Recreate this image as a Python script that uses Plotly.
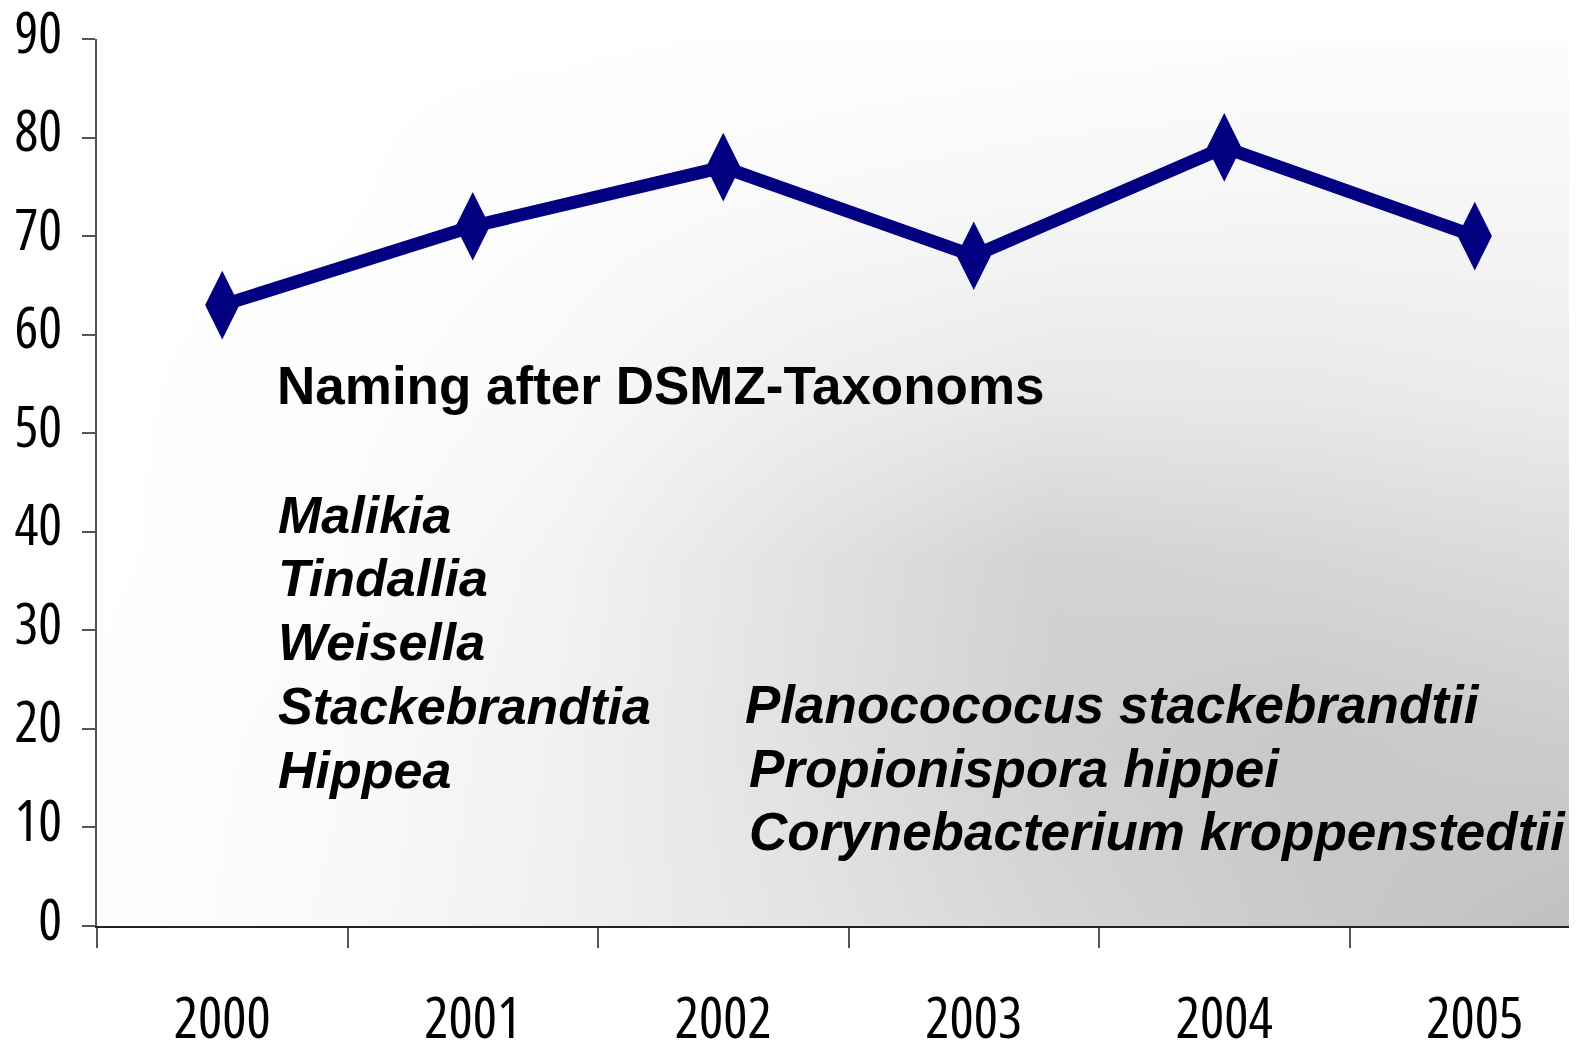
import plotly.graph_objects as go

# ---- data ----
years = ["2000", "2001", "2002", "2003", "2004", "2005"]
values = [63, 71, 77, 68, 79, 70]
y_ticks = [0, 10, 20, 30, 40, 50, 60, 70, 80, 90]

title_text = "Naming after DSMZ-Taxonoms"
left_names = ["Malikia", "Tindallia", "Weisella", "Stackebrandtia", "Hippea"]
right_names = ["Planocococus stackebrandtii", "Propionispora hippei", "Corynebacterium kroppenstedtii"]

# ---- background gradient control grid (gray levels) ----
bg_x = [0.0, 0.157, 0.313, 0.475, 0.644, 0.813, 1.0]
bg_y = [0.0, 0.21, 0.413, 0.593, 0.818, 1.0]
bg_z = [
    [254, 249, 240, 228, 214, 202, 192],
    [254, 250, 241, 225, 208, 200, 205],
    [255, 252, 243, 226, 210, 214, 220],
    [255, 253, 248, 238, 231, 232, 236],
    [255, 255, 252, 249, 247, 246, 246],
    [255, 255, 255, 254, 253, 252, 252],
]

COND = "Open Sans, Roboto Condensed, sans-serif"
WIDE = "Liberation Sans, Arial, sans-serif"
NAVY = "#000080"


def narrow(s):
    return f"<span style='font-stretch:75%'>{s}</span>"


# page body has an 8px margin: compensate so the plot sits where the reference has it
OFF = 8
W, H = 1577 - OFF, 1045 - OFF
L, T = 97 - OFF, 39 - OFF
plot_w = W - L            # 1480
plot_h = 887
B = H - T - plot_h
cat_w = 250.5

fig = go.Figure()

fig.add_trace(go.Heatmap(
    x=bg_x, y=bg_y, z=bg_z, zmin=0, zmax=255, zsmooth="best",
    colorscale=[[0, "rgb(0,0,0)"], [1, "rgb(255,255,255)"]],
    showscale=False, hoverinfo="skip", xaxis="x", yaxis="y",
))

fig.add_trace(go.Scatter(
    x=years, y=values, mode="lines+markers",
    line=dict(color=NAVY, width=13),
    marker=dict(symbol="diamond-tall", size=49, color=NAVY),
    xaxis="x2", yaxis="y2", showlegend=False, cliponaxis=False,
))


def px_x(px):
    return (px - OFF - L) / plot_w


def px_y(py):
    return (T + plot_h - (py - OFF)) / plot_h


annotations = [dict(
    text=f"<b>{title_text}</b>", x=px_x(275), y=px_y(386), xref="paper", yref="paper",
    xanchor="left", yanchor="middle", showarrow=False,
    font=dict(family=WIDE, size=53, color="black"),
)]
left_y = [515, 578, 642, 706, 770]
for name, py in zip(left_names, left_y):
    annotations.append(dict(
        text=f"<b><i>{name}</i></b>", x=px_x(276), y=px_y(py), xref="paper", yref="paper",
        xanchor="left", yanchor="middle", showarrow=False,
        font=dict(family=WIDE, size=52, color="black"),
    ))
right_y = [704, 768, 831]
right_x = [743, 747, 747]
for name, px, py in zip(right_names, right_x, right_y):
    annotations.append(dict(
        text=f"<b><i>{name}</i></b>", x=px_x(px), y=px_y(py), xref="paper", yref="paper",
        xanchor="left", yanchor="middle", showarrow=False,
        font=dict(family=WIDE, size=53, color="black"),
    ))

fig.update_layout(
    width=W, height=H,
    margin=dict(l=L, r=0, t=T, b=B, pad=0, autoexpand=False),
    paper_bgcolor="white", plot_bgcolor="white",
    showlegend=False,
    xaxis=dict(range=[0, 1], visible=False, fixedrange=True, automargin=False),
    yaxis=dict(range=[0, 1], visible=False, fixedrange=True, automargin=False),
    xaxis2=dict(
        overlaying="x", anchor="y2", side="bottom", type="category",
        range=[-0.5, -0.5 + plot_w / cat_w], automargin=False,
        tickmode="array", tickvals=years, ticktext=[narrow(y) for y in years],
        tickson="boundaries", ticks="outside", ticklen=20, tickwidth=1.5, tickcolor="#555",
        showline=True, linecolor="#222", linewidth=1.5, showgrid=False, zeroline=False,
        tickfont=dict(family=COND, size=57, color="black"),
        ticklabelstandoff=42, ticklabeloverflow="allow",
    ),
    yaxis2=dict(
        overlaying="y", anchor="x2", side="left", range=[0, 90], automargin=False,
        tickmode="array", tickvals=y_ticks, ticktext=[narrow(str(v)) for v in y_ticks],
        ticks="outside", ticklen=13, tickwidth=1.5, tickcolor="#555",
        showline=True, linecolor="#555", linewidth=1.5, showgrid=False, zeroline=False,
        tickfont=dict(family=COND, size=56, color="black"),
        ticklabelstandoff=9, ticklabelshift=-6, ticklabeloverflow="allow",
    ),
    annotations=annotations,
)

fig.write_html("out.html")
